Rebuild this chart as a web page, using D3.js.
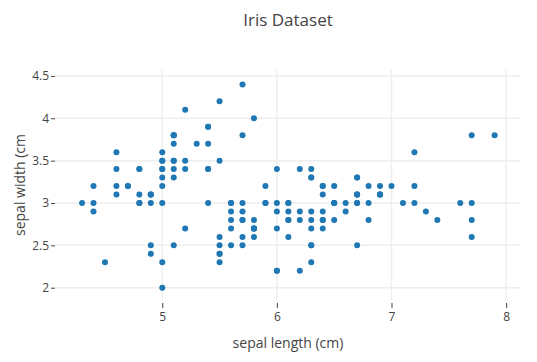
<!DOCTYPE html>
<html>
<head>
<meta charset="utf-8">
<title>Iris Dataset</title>
<script src="https://d3js.org/d3.v7.min.js"></script>
<style>
  body { margin: 0; background: #fff; }
  text { font-family: "Open Sans", verdana, arial, sans-serif; fill: #444; }
</style>
</head>
<body>
<svg id="chart" width="537" height="362"></svg>
<script>
// Iris data: sepal length / sepal width (cm), 150 samples
const sepalLength = [
  5.1,4.9,4.7,4.6,5.0,5.4,4.6,5.0,4.4,4.9,5.4,4.8,4.8,4.3,5.8,5.7,5.4,5.1,5.7,5.1,
  5.4,5.1,4.6,5.1,4.8,5.0,5.0,5.2,5.2,4.7,4.8,5.4,5.2,5.5,4.9,5.0,5.5,4.9,4.4,5.1,
  5.0,4.5,4.4,5.0,5.1,4.8,5.1,4.6,5.3,5.0,
  7.0,6.4,6.9,5.5,6.5,5.7,6.3,4.9,6.6,5.2,5.0,5.9,6.0,6.1,5.6,6.7,5.6,5.8,6.2,5.6,
  5.9,6.1,6.3,6.1,6.4,6.6,6.8,6.7,6.0,5.7,5.5,5.5,5.8,6.0,5.4,6.0,6.7,6.3,5.6,5.5,
  5.5,6.1,5.8,5.0,5.6,5.7,5.7,6.2,5.1,5.7,
  6.3,5.8,7.1,6.3,6.5,7.6,4.9,7.3,6.7,7.2,6.5,6.4,6.8,5.7,5.8,6.4,6.5,7.7,7.7,6.0,
  6.9,5.6,7.7,6.3,6.7,7.2,6.2,6.1,6.4,7.2,7.4,7.9,6.4,6.3,6.1,7.7,6.3,6.4,6.0,6.9,
  6.7,6.9,5.8,6.8,6.7,6.7,6.3,6.5,6.2,5.9
];
const sepalWidth = [
  3.5,3.0,3.2,3.1,3.6,3.9,3.4,3.4,2.9,3.1,3.7,3.4,3.0,3.0,4.0,4.4,3.9,3.5,3.8,3.8,
  3.4,3.7,3.6,3.3,3.4,3.0,3.4,3.5,3.4,3.2,3.1,3.4,4.1,4.2,3.1,3.2,3.5,3.1,3.0,3.4,
  3.5,2.3,3.2,3.5,3.8,3.0,3.8,3.2,3.7,3.3,
  3.2,3.2,3.1,2.3,2.8,2.8,3.3,2.4,2.9,2.7,2.0,3.0,2.2,2.9,2.9,3.1,3.0,2.7,2.2,2.5,
  3.2,2.8,2.5,2.8,2.9,3.0,2.8,3.0,2.9,2.6,2.4,2.4,2.7,2.7,3.0,3.4,3.1,2.3,3.0,2.5,
  2.6,3.0,2.6,2.3,2.7,3.0,2.9,2.9,2.5,2.8,
  3.3,2.7,3.0,2.9,3.0,3.0,2.5,2.9,2.5,3.6,3.2,2.7,3.0,2.5,2.8,3.2,3.0,3.8,2.6,2.2,
  3.2,2.8,2.8,2.7,3.3,3.2,2.8,3.0,2.8,3.0,2.8,3.8,2.8,2.8,2.6,3.0,3.4,3.1,3.0,3.1,
  3.1,3.1,2.7,3.2,3.3,3.0,2.5,3.0,3.4,3.0
];
const xTicks = [5, 6, 7, 8];
const yTicks = [2, 2.5, 3, 3.5, 4, 4.5];

const points = sepalLength.map((x, i) => ({ x: x, y: sepalWidth[i] }));

const width = 537, height = 362;
const margin = { top: 70, right: 16, bottom: 62, left: 55 };
const plotW = width - margin.left - margin.right;
const plotH = height - margin.top - margin.bottom;

const svg = d3.select("#chart");

const x = d3.scaleLinear().domain([4.064, 8.13]).range([0, plotW]);
const y = d3.scaleLinear().domain([1.855, 4.57]).range([plotH, 0]);

const g = svg.append("g")
  .attr("transform", `translate(${margin.left},${margin.top})`);

// Grid lines
g.append("g")
  .selectAll("line")
  .data(xTicks)
  .join("line")
  .attr("x1", d => x(d)).attr("x2", d => x(d))
  .attr("y1", 0).attr("y2", plotH)
  .attr("stroke", "#eee")
  .attr("stroke-width", 1.5);

g.append("g")
  .selectAll("line")
  .data(yTicks)
  .join("line")
  .attr("x1", 0).attr("x2", plotW)
  .attr("y1", d => y(d)).attr("y2", d => y(d))
  .attr("stroke", "#eee")
  .attr("stroke-width", 1.5);

// X axis (ticks outside, no domain line)
const xAxis = g.append("g")
  .attr("transform", `translate(0,${plotH + 3})`)
  .call(d3.axisBottom(x).tickValues(xTicks).tickSize(5).tickPadding(4).tickFormat(d3.format("")));
xAxis.select(".domain").remove();
xAxis.selectAll("line").attr("stroke", "#444");
xAxis.selectAll("text")
  .attr("font-size", 12)
  .attr("font-family", null);

// Y axis
const yAxis = g.append("g")
  .call(d3.axisLeft(y).tickValues(yTicks).tickSize(4).tickPadding(2).tickFormat(d3.format("")));
yAxis.select(".domain").remove();
yAxis.selectAll("line").attr("stroke", "#444");
yAxis.selectAll("text")
  .attr("font-size", 12)
  .attr("font-family", null);

// Points
g.append("g")
  .selectAll("circle")
  .data(points)
  .join("circle")
  .attr("cx", d => x(d.x))
  .attr("cy", d => y(d.y))
  .attr("r", 3)
  .attr("fill", "#1f77b4");

// Title
svg.append("text")
  .attr("x", margin.left + plotW / 2)
  .attr("y", 26)
  .attr("text-anchor", "middle")
  .attr("font-size", 17)
  .text("Iris Dataset");

// Axis titles
svg.append("text")
  .attr("x", margin.left + plotW / 2)
  .attr("y", 348)
  .attr("text-anchor", "middle")
  .attr("font-size", 14)
  .text("sepal length (cm)");

svg.append("text")
  .attr("transform", `translate(25,${margin.top + plotH / 2}) rotate(-90)`)
  .attr("text-anchor", "middle")
  .attr("font-size", 14)
  .text("sepal width (cm");
</script>
</body>
</html>
